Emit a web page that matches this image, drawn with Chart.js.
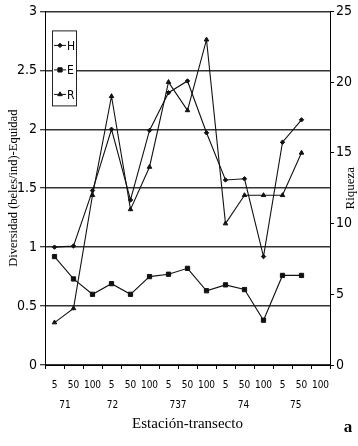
<!DOCTYPE html>
<html><head><meta charset="utf-8">
<script src="https://cdn.jsdelivr.net/npm/chart.js@4/dist/chart.umd.min.js"></script>
<style>html,body{margin:0;padding:0;background:#fff}#wrap{position:relative;width:358px;height:446px}</style>
</head><body><div id="wrap"><canvas id="c" width="358" height="446"></canvas></div>
<script>
// ---- data ----
const categories = ['5','50','100','5','50','100','5','50','100','5','50','100','5','50','100'];
const stations = ['71','72','737','74','75'];
const H = [1.00, 1.01, 1.48, 2.00, 1.40, 1.99, 2.31, 2.41, 1.97, 1.57, 1.58, 0.92, 1.89, 2.08, null];
const E = [0.92, 0.73, 0.60, 0.69, 0.60, 0.75, 0.77, 0.82, 0.63, 0.68, 0.64, 0.38, 0.76, 0.76, null];
const R = [3, 4, 12, 19, 11, 14, 20, 18, 23, 10, 12, 12, 12, 15, null];
const leftTicks = [0, 0.5, 1, 1.5, 2, 2.5, 3];
const rightTicks = [0, 5, 10, 15, 20, 25];
const seriesNames = ['H', 'E', 'R'];

const NARROW = "'Liberation Sans Narrow','DejaVu Sans Condensed','Arial Narrow',sans-serif";
const SERIF = "'Liberation Serif','DejaVu Serif',serif";
const styles = {H: {ps: 'rectRot', r: 2.2}, E: {ps: 'rect', r: 3}, R: {ps: 'triangle', r: 2.6}};
const stationPos = [0.55, 3.05, 6.5, 9.95, 12.7];

const extras = {
  id: 'extras',
  afterDraw(chart) {
    const ctx = chart.ctx, xs = chart.scales.x;
    ctx.save();
    ctx.fillStyle = '#000';
    // station labels
    ctx.font = '10px ' + NARROW;
    ctx.textAlign = 'center'; ctx.textBaseline = 'middle';
    stations.forEach((s, i) => ctx.fillText(s, xs.getPixelForValue(stationPos[i]), 405));
    // right axis title, reading bottom-to-top
    ctx.font = '13px ' + SERIF;
    ctx.save();
    ctx.translate(351, (chart.chartArea.top + chart.chartArea.bottom) / 2);
    ctx.rotate(-Math.PI / 2);
    ctx.fillText('Riqueza', 0, 0);
    ctx.restore();
    // panel letter
    ctx.font = 'bold 17px ' + SERIF;
    ctx.fillText('a', 348, 428);
    // legend box
    const bx = chart.chartArea.left + 7, by = chart.chartArea.top + 19, bw = 24, bh = 75;
    ctx.fillStyle = '#fff';
    ctx.fillRect(bx, by, bw, bh);
    ctx.strokeStyle = '#222'; ctx.lineWidth = 1;
    ctx.strokeRect(bx + 0.5, by + 0.5, bw, bh);
    ctx.font = '12px ' + NARROW;
    ctx.textAlign = 'left';
    seriesNames.forEach((n, i) => {
      const y = by + 15 + i * 24.5;
      ctx.strokeStyle = '#111'; ctx.lineWidth = 1;
      ctx.beginPath(); ctx.moveTo(bx + 2, y); ctx.lineTo(bx + 14, y); ctx.stroke();
      ctx.fillStyle = '#111';
      Chart.helpers.drawPoint(ctx, {pointStyle: styles[n].ps, radius: styles[n].r, rotation: 0, borderWidth: 1}, bx + 8, y);
      ctx.fillStyle = '#000';
      ctx.fillText(n, bx + 15, y + 1);
    });
    ctx.restore();
  }
};

function ds(label, data, axis) {
  return {
    label, data, yAxisID: axis,
    borderColor: '#111', backgroundColor: '#111', borderWidth: 1.1,
    pointStyle: styles[label].ps, pointRadius: styles[label].r,
    pointBackgroundColor: '#111', pointBorderColor: '#111', pointBorderWidth: 1,
    tension: 0, spanGaps: false, fill: false
  };
}

new Chart(document.getElementById('c'), {
  type: 'line',
  data: {
    labels: categories,
    datasets: [ds('H', H, 'y'), ds('E', E, 'y'), ds('R', R, 'y1')]
  },
  options: {
    responsive: false, animation: false, devicePixelRatio: 1,
    layout: {padding: {top: 8, left: 0, right: 0, bottom: 0}},
    plugins: {legend: {display: false}, tooltip: {enabled: false}},
    scales: {
      x: {
        type: 'category', offset: true,
        afterFit: s => { s.height = 81; },
        grid: {offset: true, drawOnChartArea: false, tickLength: 4, color: '#000'},
        border: {color: '#000', width: 1},
        ticks: {font: {family: NARROW, size: 10}, color: '#000', maxRotation: 0, autoSkip: false, padding: 10},
        title: {display: true, text: 'Estación-transecto', color: '#000',
                font: {family: SERIF, size: 15}, padding: {top: 0, bottom: 13}}
      },
      y: {
        position: 'left', min: 0, max: 3,
        afterFit: s => { s.width = 45; },
        afterBuildTicks: s => { s.ticks = leftTicks.map(v => ({value: v})); },
        grid: {color: '#333', lineWidth: 1.5, tickLength: 5, tickColor: '#000', tickWidth: 1},
        border: {color: '#000', width: 1},
        ticks: {font: {family: NARROW, size: 14}, color: '#000', padding: 3,
                callback: v => String(v)},
        title: {display: true, text: 'Diversidad (beles/ind)-Equidad', color: '#000',
                font: {family: SERIF, size: 12.5}, padding: {top: 6, bottom: 0}}
      },
      y1: {
        position: 'right', min: 0, max: 25,
        afterFit: s => { s.width = 28; },
        afterBuildTicks: s => { s.ticks = rightTicks.map(v => ({value: v})); },
        grid: {drawOnChartArea: false, tickLength: 4, color: '#000'},
        border: {color: '#000', width: 1},
        ticks: {font: {family: NARROW, size: 14}, color: '#000', padding: 2}
      }
    }
  },
  plugins: [extras]
});
</script></body></html>
